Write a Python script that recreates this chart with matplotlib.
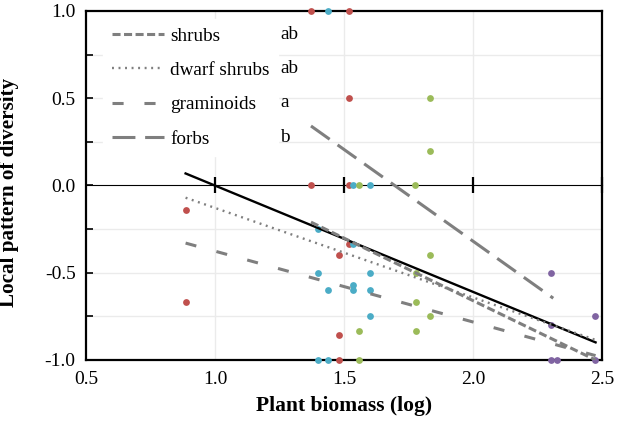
import matplotlib
matplotlib.use("Agg")
import matplotlib.pyplot as plt
from matplotlib.ticker import MultipleLocator

plt.rcParams['font.family'] = ['Liberation Serif', 'DejaVu Serif']
plt.rcParams['axes.unicode_minus'] = False
plt.rcParams['lines.scale_dashes'] = False

# observed points, one group per colour
red_x = [1.372, 1.520, 1.520, 1.372, 1.520, 0.886, 1.482, 1.520, 0.886, 1.482, 1.482]
red_y = [1.0, 1.0, 0.5, 0.0, 0.0, -0.143, -0.4, -0.333, -0.667, -0.857, -1.0]
blue_x = [1.437, 1.534, 1.602, 1.399, 1.534, 1.399, 1.602, 1.437, 1.534, 1.534, 1.602, 1.602, 1.399, 1.437]
blue_y = [1.0, 0.0, 0.0, -0.25, -0.333, -0.5, -0.5, -0.6, -0.571, -0.6, -0.6, -0.75, -1.0, -1.0]
green_x = [1.833, 1.833, 1.560, 1.776, 1.832, 1.778, 1.778, 1.832, 1.560, 1.778, 1.560]
green_y = [0.5, 0.2, 0.0, 0.0, -0.4, -0.5, -0.667, -0.75, -0.833, -0.833, -1.0]
purple_x = [2.301, 2.301, 2.472, 2.301, 2.325, 2.472]
purple_y = [-0.5, -0.8, -0.75, -1.0, -1.0, -1.0]

# fitted lines (start/end)
all_x = [0.886, 2.475]
all_y = [0.069, -0.899]
shrubs_x = [1.372, 2.475]
shrubs_y = [-0.21, -1.0]
dwarf_x = [0.886, 2.475]
dwarf_y = [-0.07, -0.885]
gram_x = [0.886, 2.475]
gram_y = [-0.33, -0.975]
forbs_x = [1.372, 2.311]
forbs_y = [0.341, -0.646]

legend_labels = ['shrubs', 'dwarf shrubs', 'graminoids', 'forbs']
sig_letters = ['ab', 'ab', 'a', 'b']

fig = plt.figure(figsize=(6.2, 4.21), dpi=100)
ax = fig.add_axes([0.1387, 0.1449, 0.8323, 0.829])

ax.set_xlim(0.5, 2.5)
ax.set_ylim(-1.0, 1.0)
ax.set_xticks([0.5, 1.0, 1.5, 2.0, 2.5])
ax.set_xticklabels(['0.5', '1.0', '1.5', '2.0', '2.5'])
ax.set_yticks([-1.0, -0.5, 0.0, 0.5, 1.0])
ax.set_yticklabels(['-1.0', '-0.5', '0.0', '0.5', '1.0'])
ax.yaxis.set_minor_locator(MultipleLocator(0.25))

gc = '#ebebeb'
for gx in [1.0, 1.5, 2.0]:
    ax.axvline(gx, color=gc, lw=1.0, zorder=0)
for gy in [-0.75, -0.5, -0.25, 0.25, 0.5, 0.75]:
    ax.axhline(gy, color=gc, lw=1.0, zorder=0)

ax.tick_params(axis='x', length=0, labelsize=14, pad=8)
ax.tick_params(axis='y', which='both', direction='in', length=5, width=1.2,
               labelsize=14, pad=7.5)
for s in ax.spines.values():
    s.set_linewidth(1.6)
    s.set_color('black')

# zero line with crossing ticks
sec = ax.secondary_xaxis(0.5)
sec.set_xticks([1.0, 1.5, 2.0, 2.5])
sec.set_xticklabels([])
sec.tick_params(direction='inout', length=12, width=1.6)
sec.spines['bottom'].set_linewidth(1.6)

for xs, ys, c in [(red_x, red_y, '#c0504d'), (blue_x, blue_y, '#4bacc6'),
                  (green_x, green_y, '#9bbb59'), (purple_x, purple_y, '#8064a2')]:
    ax.scatter(xs, ys, s=24, color=c, zorder=5, clip_on=False, linewidths=0)

gray = '#7f7f7f'
ax.plot(all_x, all_y, color='black', lw=1.7, zorder=6)
h1, = ax.plot(shrubs_x, shrubs_y, color=gray, lw=2.2, dashes=(5.8, 2.5), zorder=6)
h2, = ax.plot(dwarf_x, dwarf_y, color=gray, lw=1.7, dashes=(1.4, 3.3), zorder=6)
h3, = ax.plot(gram_x, gram_y, color=gray, lw=2.2, dashes=(8, 15), zorder=6)
h4, = ax.plot(forbs_x, forbs_y, color=gray, lw=2.2, dashes=(16.5, 7), zorder=6)

leg = ax.legend([h1, h2, h3, h4], legend_labels, loc='upper left',
                bbox_to_anchor=(0.018, 1.0), frameon=True, fontsize=13.8,
                handlelength=2.75, handletextpad=0.3, labelspacing=0.88,
                borderaxespad=0.4, borderpad=0.45)
leg.get_frame().set_edgecolor('white')
leg.get_frame().set_facecolor('white')
leg.get_frame().set_alpha(1)
leg.set_zorder(4)

for i, letter in enumerate(sig_letters):
    ax.text(0.376, 0.934 - i * 0.0985, letter, transform=ax.transAxes,
            fontsize=13.8, va='center', ha='left', zorder=7)

ax.set_xlabel('Plant biomass (log)', fontsize=15.5, fontweight='bold', labelpad=6)
ax.set_ylabel('Local pattern of diversity', fontsize=15.2, fontweight='bold')
ax.yaxis.set_label_coords(-0.13, 0.48)

fig.savefig('out.png', dpi=100)
